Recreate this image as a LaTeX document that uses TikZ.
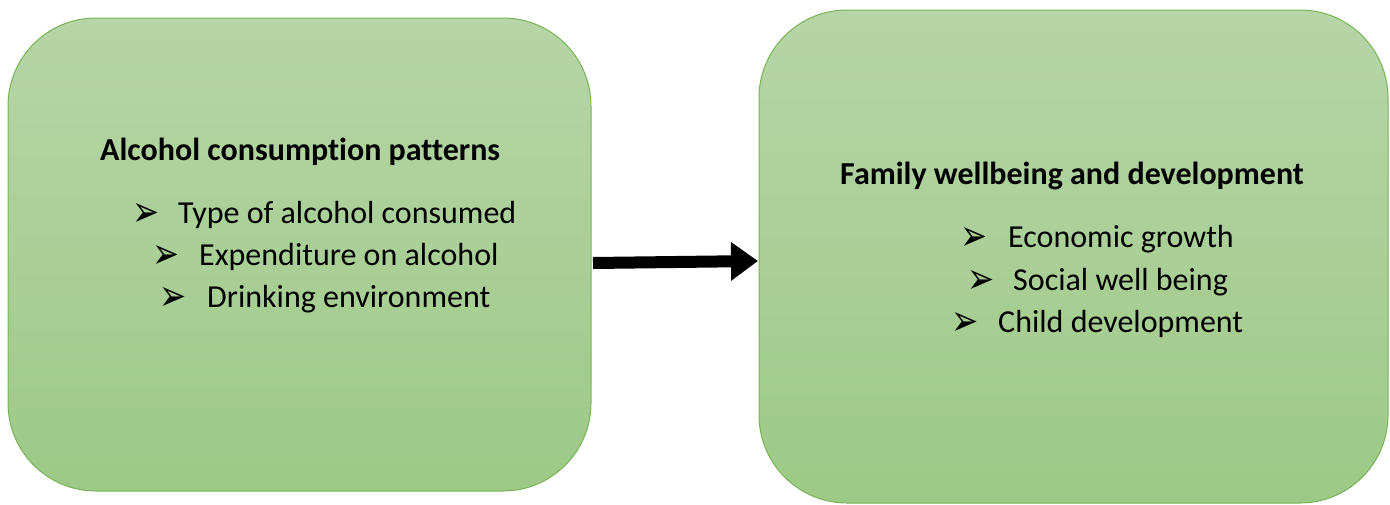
\documentclass[tikz,border=0pt]{standalone}
\usepackage{fontspec}
\setmainfont{Carlito}[Ligatures=CommonOff]
\newfontfamily\djfont{DejaVu Sans}
\usetikzlibrary{arrows.meta}
\definecolor{boxtop}{RGB}{182,213,168}
\definecolor{boxbot}{RGB}{157,201,134}
\definecolor{boxline}{RGB}{120,180,86}
\newcommand{\arrowbullet}{\smash{\scalebox{1.2}[1.6]{\fontsize{27}{29}\selectfont ➢}}}
\tikzset{
  greenbox/.style={draw=boxline, line width=1pt, top color=boxtop, bottom color=boxbot, rounded corners=88pt},
  titletext/.style={anchor=base west, inner sep=0pt, font=\fontsize{32}{34}\selectfont\bfseries},
  itemtext/.style={anchor=base west, inner sep=0pt, font=\fontsize{32}{34}\selectfont},
  bullettext/.style={anchor=base west, inner sep=0pt, font=\djfont},
  bigarrow/.style={line width=12pt, -{Triangle[length=27pt,width=37pt]}}
}
\begin{document}
\begin{tikzpicture}[x=1pt,y=-1pt]
\useasboundingbox (0,0) rectangle (1390,504);
% boxes
\path[greenbox] (8,18) rectangle (591,491);
\path[greenbox] (759,10) rectangle (1388,503);
\node (b1) at (299.5,254.5) {};
\node (b2) at (1073.5,256.5) {};
% left texts
\node[titletext] (t1) at (100,160) {Alcohol consumption patterns};
\node[bullettext] (l1b) at (132,226) {\arrowbullet};
\node[itemtext] (l1) at (178,223) {Type of alcohol consumed};
\node[bullettext] (l2b) at (152,268) {\arrowbullet};
\node[itemtext] (l2) at (199,265) {Expenditure on alcohol};
\node[bullettext] (l3b) at (159,310) {\arrowbullet};
\node[itemtext] (l3) at (207,307) {Drinking environment};
% right texts
\node[titletext] (t2) at (840,184) {Family wellbeing and development};
\node[bullettext] (r1b) at (960,250) {\arrowbullet};
\node[itemtext] (r1) at (1008,247) {Economic growth};
\node[bullettext] (r2b) at (967,293) {\arrowbullet};
\node[itemtext] (r2) at (1013,290) {Social well being};
\node[bullettext] (r3b) at (951,335) {\arrowbullet};
\node[itemtext] (r3) at (998,332) {Child development};
% arrow
\coordinate (as) at (593,263);
\coordinate (ae) at (758,261);
\draw[bigarrow] (as) -- (ae);
\end{tikzpicture}
\end{document}
